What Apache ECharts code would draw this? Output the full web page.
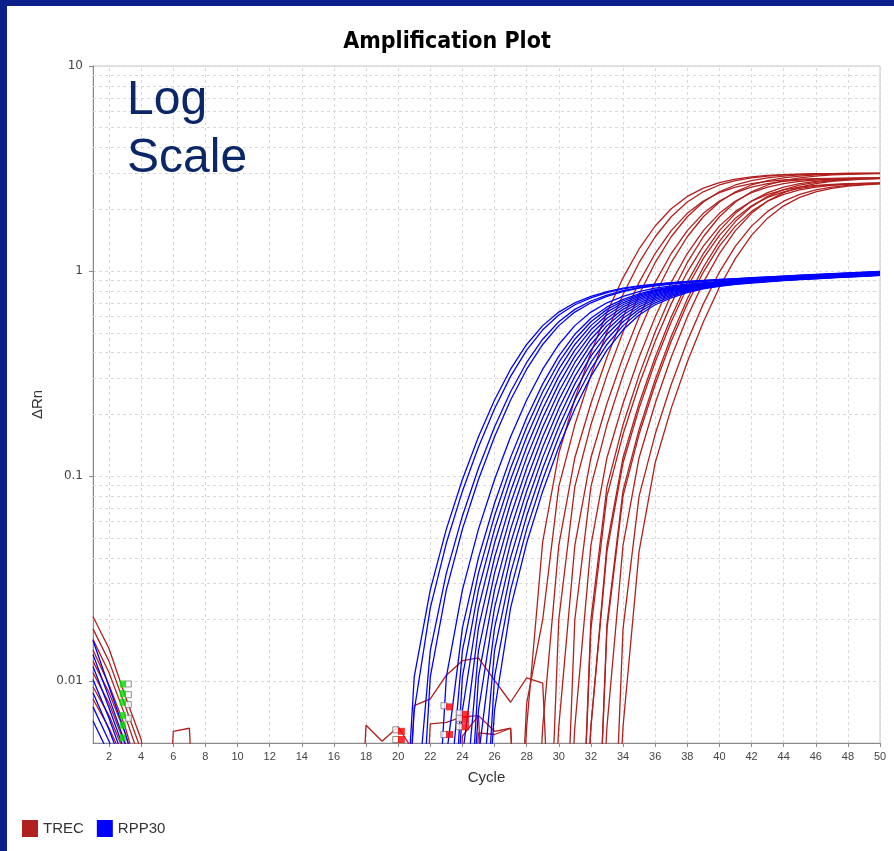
<!DOCTYPE html>
<html>
<head>
<meta charset="utf-8">
<script src="https://cdn.jsdelivr.net/npm/echarts@6/dist/echarts.min.js"></script>
<style>
html,body{margin:0;padding:0;background:#ffffff;}
#chart{width:894px;height:851px;}
</style>
</head>
<body>
<div id="chart"></div>
<script>
// ---------------- data ----------------
const cycleTicks = [2,4,6,8,10,12,14,16,18,20,22,24,26,28,30,32,34,36,38,40,42,44,46,48,50];
const minorTicks = [0.02,0.03,0.04,0.05,0.06,0.07,0.08,0.09,0.2,0.3,0.4,0.5,0.6,0.7,0.8,0.9,2,3,4,5,6,7,8,9];

// TREC amplification curves (ΔRn per cycle, from the start cycle onward)
const trecStarts = [27,27,28,29,29,30,30,31,31,31,31,32,32,32,33,33];
const trec01 = [0.0002,0.006,0.048,0.129,0.238,0.400,0.628,0.927,1.282,1.659,2.013,2.312,2.540,2.702,2.811,2.882,2.927,2.955,2.972,2.983,2.990,2.994,2.996,2.998];
const trec02 = [0.0002,0.0078,0.02,0.089,0.178,0.311,0.505,0.769,1.099,1.470,1.841,2.171,2.435,2.629,2.762,2.851,2.907,2.943,2.965,2.978,2.987,2.992,2.995,2.997];
const trec03 = [0.0002,0.006,0.046,0.123,0.226,0.380,0.597,0.881,1.218,1.576,1.912,2.196,2.413,2.567,2.670,2.738,2.781,2.807,2.823,2.834,2.841,2.844,2.846];
const trec04 = [0.0002,0.02,0.089,0.178,0.311,0.505,0.769,1.099,1.470,1.841,2.171,2.435,2.629,2.762,2.851,2.907,2.943,2.965,2.978,2.987,2.992,2.995];
const trec05 = [0.0002,0.006,0.046,0.123,0.226,0.380,0.597,0.881,1.218,1.576,1.912,2.196,2.413,2.567,2.670,2.738,2.781,2.807,2.823,2.834,2.841,2.844];
const trec06 = [0.0002,0.02,0.089,0.178,0.311,0.505,0.769,1.099,1.470,1.841,2.171,2.435,2.629,2.762,2.851,2.907,2.943,2.965,2.978,2.987,2.992];
const trec07 = [0.0002,0.006,0.046,0.123,0.226,0.380,0.597,0.881,1.218,1.576,1.912,2.196,2.413,2.567,2.670,2.738,2.781,2.807,2.823,2.834,2.841];
const trec08 = [0.0002,0.02,0.089,0.178,0.311,0.505,0.769,1.099,1.470,1.841,2.171,2.435,2.629,2.762,2.851,2.907,2.943,2.965,2.978,2.987];
const trec09 = [0.0002,0.018,0.080,0.160,0.280,0.455,0.692,0.989,1.323,1.657,1.954,2.192,2.366,2.486,2.566,2.616,2.649,2.669,2.680,2.688];
const trec10 = [0.0002,0.006,0.046,0.123,0.226,0.380,0.597,0.881,1.218,1.576,1.912,2.196,2.413,2.567,2.670,2.738,2.781,2.807,2.823,2.834];
const trec11 = [0.0002,0.006,0.043,0.116,0.214,0.360,0.565,0.834,1.154,1.493,1.812,2.081,2.286,2.432,2.530,2.594,2.634,2.660,2.675,2.685];
const trec12 = [0.0002,0.019,0.085,0.169,0.295,0.480,0.731,1.044,1.397,1.749,2.062,2.313,2.498,2.624,2.708,2.762,2.796,2.817,2.829];
const trec13 = [0.0002,0.018,0.080,0.160,0.280,0.455,0.692,0.989,1.323,1.657,1.954,2.192,2.366,2.486,2.566,2.616,2.649,2.669,2.680];
const trec14 = [0.0002,0.006,0.046,0.123,0.226,0.380,0.597,0.881,1.218,1.576,1.912,2.196,2.413,2.567,2.670,2.738,2.781,2.807,2.823];
const trec15 = [0.0002,0.018,0.080,0.160,0.280,0.455,0.692,0.989,1.323,1.657,1.954,2.192,2.366,2.486,2.566,2.616,2.649,2.669];
const trec16 = [0.0002,0.006,0.043,0.116,0.214,0.360,0.565,0.834,1.154,1.493,1.812,2.081,2.286,2.432,2.530,2.594,2.634,2.660];

// RPP30 amplification curves
const rppStarts = [20,20,21,21,22,22,23,23,23,23,24,24,24,24,25,25,25];
const rpp01 = [0.0005,0.0105,0.0279,0.0552,0.0964,0.1556,0.235,0.3323,0.4388,0.5421,0.6312,0.7005,0.7523,0.7946,0.825,0.8473,0.8644,0.8783,0.89,0.9005,0.9102,0.9195,0.9284,0.9371,0.9458,0.9545,0.9631,0.9716,0.9801,0.9886,0.9971];
const rpp02 = [0.0005,0.0072,0.0228,0.0472,0.0845,0.1389,0.2133,0.3067,0.412,0.5173,0.6107,0.6851,0.7395,0.7852,0.8182,0.8423,0.8605,0.875,0.8872,0.898,0.9079,0.9172,0.9262,0.935,0.9437,0.9524,0.961,0.9695,0.978,0.9865,0.995];
const rpp03 = [0.0018,0.0141,0.0337,0.064,0.1093,0.1735,0.2579,0.3585,0.4655,0.5661,0.6505,0.7147,0.7643,0.8031,0.8312,0.852,0.8681,0.8813,0.8928,0.903,0.9126,0.9218,0.9307,0.9394,0.9481,0.9567,0.9652,0.9737,0.9822,0.9907];
const rpp04 = [0.0005,0.0105,0.0279,0.0552,0.0964,0.1556,0.235,0.3323,0.4388,0.5421,0.6312,0.7005,0.7523,0.7946,0.825,0.8473,0.8644,0.8783,0.89,0.9005,0.9102,0.9195,0.9284,0.9371,0.9458,0.9545,0.9631,0.9716,0.9801,0.9886];
const rpp05 = [0.0005,0.0105,0.0279,0.0552,0.0964,0.1556,0.235,0.3323,0.4388,0.5421,0.6312,0.7005,0.7523,0.7946,0.825,0.8473,0.8644,0.8783,0.89,0.9005,0.9102,0.9195,0.9284,0.9371,0.9458,0.9545,0.9631,0.9716,0.9801];
const rpp06 = [0.0003,0.0043,0.0182,0.0401,0.0738,0.1235,0.1928,0.2819,0.3852,0.4917,0.589,0.6685,0.7276,0.7752,0.811,0.8369,0.8564,0.8717,0.8844,0.8954,0.9055,0.9149,0.924,0.9328,0.9415,0.9502,0.9589,0.9674,0.9759];
const rpp07 = [0.0018,0.0141,0.0337,0.064,0.1093,0.1735,0.2579,0.3585,0.4655,0.5661,0.6505,0.7147,0.7643,0.8031,0.8312,0.852,0.8681,0.8813,0.8928,0.903,0.9126,0.9218,0.9307,0.9394,0.9481,0.9567,0.9652,0.9737];
const rpp08 = [0.0005,0.0105,0.0279,0.0552,0.0964,0.1556,0.235,0.3323,0.4388,0.5421,0.6312,0.7005,0.7523,0.7946,0.825,0.8473,0.8644,0.8783,0.89,0.9005,0.9102,0.9195,0.9284,0.9371,0.9458,0.9545,0.9631,0.9716];
const rpp09 = [0.0005,0.0072,0.0228,0.0472,0.0845,0.1389,0.2133,0.3067,0.412,0.5173,0.6107,0.6851,0.7395,0.7852,0.8182,0.8423,0.8605,0.875,0.8872,0.898,0.9079,0.9172,0.9262,0.935,0.9437,0.9524,0.961,0.9695];
const rpp10 = [0.0003,0.0043,0.0182,0.0401,0.0738,0.1235,0.1928,0.2819,0.3852,0.4917,0.589,0.6685,0.7276,0.7752,0.811,0.8369,0.8564,0.8717,0.8844,0.8954,0.9055,0.9149,0.924,0.9328,0.9415,0.9502,0.9589,0.9674];
const rpp11 = [0.0018,0.0141,0.0337,0.064,0.1093,0.1735,0.2579,0.3585,0.4655,0.5661,0.6505,0.7147,0.7643,0.8031,0.8312,0.852,0.8681,0.8813,0.8928,0.903,0.9126,0.9218,0.9307,0.9394,0.9481,0.9567,0.9652];
const rpp12 = [0.0005,0.0105,0.0279,0.0552,0.0964,0.1556,0.235,0.3323,0.4388,0.5421,0.6312,0.7005,0.7523,0.7946,0.825,0.8473,0.8644,0.8783,0.89,0.9005,0.9102,0.9195,0.9284,0.9371,0.9458,0.9545,0.9631];
const rpp13 = [0.0005,0.0072,0.0228,0.0472,0.0845,0.1389,0.2133,0.3067,0.412,0.5173,0.6107,0.6851,0.7395,0.7852,0.8182,0.8423,0.8605,0.875,0.8872,0.898,0.9079,0.9172,0.9262,0.935,0.9437,0.9524,0.961];
const rpp14 = [0.0003,0.0043,0.0182,0.0401,0.0738,0.1235,0.1928,0.2819,0.3852,0.4917,0.589,0.6685,0.7276,0.7752,0.811,0.8369,0.8564,0.8717,0.8844,0.8954,0.9055,0.9149,0.924,0.9328,0.9415,0.9502,0.9589];
const rpp15 = [0.0018,0.0141,0.0337,0.064,0.1093,0.1735,0.2579,0.3585,0.4655,0.5661,0.6505,0.7147,0.7643,0.8031,0.8312,0.852,0.8681,0.8813,0.8928,0.903,0.9126,0.9218,0.9307,0.9394,0.9481,0.9567];
const rpp16 = [0.0005,0.0105,0.0279,0.0552,0.0964,0.1556,0.235,0.3323,0.4388,0.5421,0.6312,0.7005,0.7523,0.7946,0.825,0.8473,0.8644,0.8783,0.89,0.9005,0.9102,0.9195,0.9284,0.9371,0.9458,0.9545];
const rpp17 = [0.0005,0.0072,0.0228,0.0472,0.0845,0.1389,0.2133,0.3067,0.412,0.5173,0.6107,0.6851,0.7395,0.7852,0.8182,0.8423,0.8605,0.875,0.8872,0.898,0.9079,0.9172,0.9262,0.935,0.9437,0.9524];

// early-cycle baseline traces (start at cycle 1)
const trecEarly1 = [0.0207,0.0144,0.0085,0.0052,0.0015];
const trecEarly2 = [0.018,0.0125,0.0076,0.0046,0.001];
const trecEarly3 = [0.016,0.011,0.0068,0.004,0.001];
const trecEarly4 = [0.0142,0.0096,0.006,0.0032];
const trecEarly5 = [0.0125,0.0088,0.0056,0.003];
const trecEarly6 = [0.011,0.0078,0.0049,0.002];
const trecEarly7 = [0.0094,0.0068,0.0044,0.0018];
const trecEarly8 = [0.0082,0.0059,0.004,0.0015];
const rppEarly1 = [0.0158,0.0094,0.0056,0.003];
const rppEarly2 = [0.0135,0.0083,0.005,0.0025];
const rppEarly3 = [0.0118,0.0074,0.0045,0.002];
const rppEarly4 = [0.0102,0.0066,0.004,0.0018];
const rppEarly5 = [0.0088,0.0058,0.0036,0.0015];
const rppEarly6 = [0.0075,0.0051,0.0032,0.0012];
const rppEarly7 = [0.0064,0.0044,0.0028,0.001];

// TREC baseline noise traces (start cycle, values)
const noiseStarts = [5,17,20,21,23,24];
const trecNoise1 = [0.0002,0.0057,0.0059,0.0002];
const trecNoise2 = [0.0002,0.0061,0.0051,0.006,0.0045,0.0002];
const trecNoise3 = [0.0002,0.0076,0.0082,0.0107,0.0126,0.013,0.0101,0.0079,0.0104,0.0098,0.0002];
const trecNoise4 = [0.0002,0.0062,0.0063,0.0067,0.0068,0.0057,0.0059,0.0002];
const trecNoise5 = [0.0002,0.0054,0.0068,0.0002];
const trecNoise6 = [0.0002,0.0056,0.0055,0.0059,0.0002];

// baseline / threshold marks [cycle, ΔRn]
const greenMarks = [[2.85,0.0097],[2.85,0.0087],[2.85,0.0079],[2.85,0.0068],[2.85,0.0061],[2.85,0.0053]];
const greyMarksA = [[3.2,0.0097],[3.2,0.0086],[3.2,0.0077],[3.2,0.0066]];
const redMarks = [[20.2,0.0057],[20.2,0.0052],[23.2,0.0075],[23.2,0.0055],[24.2,0.0069],[24.2,0.0065],[24.2,0.006]];
const greyMarksB = [[19.85,0.0058],[19.85,0.0052],[22.85,0.0076],[22.85,0.0055],[23.8,0.007],[23.8,0.0066],[23.8,0.006]];

// ---------------- build ----------------
const RED = '#b0201e', BLUE = '#0000ff';
function pts(start, vals){ return vals.map((v,i)=>[start+i, v]); }
function lineSeries(name, color, data){
  return {name:name, type:'line', data:data, color:color, showSymbol:false, symbol:'none',
    lineStyle:{width:1.3, color:color}, silent:true, animation:false, z:2, clip:true};
}
const trecCurves = [trec01,trec02,trec03,trec04,trec05,trec06,trec07,trec08,trec09,trec10,trec11,trec12,trec13,trec14,trec15,trec16];
const rppCurves = [rpp01,rpp02,rpp03,rpp04,rpp05,rpp06,rpp07,rpp08,rpp09,rpp10,rpp11,rpp12,rpp13,rpp14,rpp15,rpp16,rpp17];
const trecEarly = [trecEarly1,trecEarly2,trecEarly3,trecEarly4,trecEarly5,trecEarly6,trecEarly7,trecEarly8];
const rppEarly = [rppEarly1,rppEarly2,rppEarly3,rppEarly4,rppEarly5,rppEarly6,rppEarly7];
const trecNoise = [trecNoise1,trecNoise2,trecNoise3,trecNoise4,trecNoise5,trecNoise6];

const series = [];
series.push({name:'grid', type:'line', data:[[1,1]], symbol:'none', showSymbol:false, lineStyle:{opacity:0}, silent:true, animation:false, z:1,
  markLine:{silent:true, animation:false, symbol:['none','none'], z:1, label:{show:false},
    lineStyle:{type:[3,3], color:'#d9d9d9', width:1},
    emphasis:{disabled:true},
    data: minorTicks.map(v=>({yAxis:v})).concat(cycleTicks.map(c=>({xAxis:c})))}});
trecNoise.forEach((a,i)=>series.push(lineSeries('TREC', RED, pts(noiseStarts[i], a))));
trecEarly.forEach(a=>series.push(lineSeries('TREC', RED, pts(1, a))));
rppEarly.forEach(a=>series.push(lineSeries('RPP30', BLUE, pts(1, a))));
trecCurves.forEach((a,i)=>series.push(lineSeries('TREC', RED, pts(trecStarts[i], a))));
rppCurves.forEach((a,i)=>series.push(lineSeries('RPP30', BLUE, pts(rppStarts[i], a))));
series.push({name:'marksG', type:'scatter', data:greyMarksA, symbol:'rect', symbolSize:6, silent:true, animation:false, z:3,
  itemStyle:{color:'#ffffff', borderColor:'#777777', borderWidth:1}});
series.push({name:'marksG2', type:'scatter', data:greyMarksB, symbol:'rect', symbolSize:6, silent:true, animation:false, z:3,
  itemStyle:{color:'#ffffff', borderColor:'#777777', borderWidth:1}});
series.push({name:'marksGreen', type:'scatter', data:greenMarks, symbol:'rect', symbolSize:[6,7], silent:true, animation:false, z:4,
  itemStyle:{color:'#00e000'}});
series.push({name:'marksRed', type:'scatter', data:redMarks, symbol:'rect', symbolSize:[7,7], silent:true, animation:false, z:4,
  itemStyle:{color:'#ff0000'}});

const chart = echarts.init(document.getElementById('chart'), null, {renderer:'canvas'});
chart.setOption({
  animation:false,
  backgroundColor:'#ffffff',
  title:{text:'Amplification Plot', left:'center', top:31, padding:[0,0,0,10],
    textStyle:{fontSize:23, fontWeight:'bold', color:'#000000',
      fontFamily:"'DejaVu Sans Condensed','Liberation Sans Narrow','Liberation Sans',sans-serif"}},
  legend:{data:['TREC','RPP30'], left:17, top:815, icon:'rect', itemWidth:16, itemHeight:17, itemGap:13,
    selectedMode:false, textStyle:{fontSize:15, color:'#333333', fontFamily:'Liberation Sans'}},
  grid:{left:93, right:14, top:66, bottom:108, show:true, borderColor:'#c4c4c4', borderWidth:1, backgroundColor:'#ffffff'},
  xAxis:{type:'value', min:1, max:50,
    name:'Cycle', nameLocation:'middle', nameGap:27,
    nameTextStyle:{fontSize:15, color:'#333333', fontFamily:'Liberation Sans'},
    axisLine:{show:true, lineStyle:{color:'#8a8a8a', width:1}},
    axisTick:{show:true, customValues:cycleTicks, length:4, lineStyle:{color:'#8a8a8a'}},
    axisLabel:{customValues:cycleTicks, fontSize:11, color:'#444444', margin:8, fontFamily:'Liberation Sans'},
    splitLine:{show:false}},
  yAxis:{type:'log', logBase:10, min:0.005, max:10,
    name:'ΔRn', nameLocation:'middle', nameGap:48,
    nameTextStyle:{fontSize:15, color:'#333333', fontFamily:'Liberation Sans'},
    axisLine:{show:true, lineStyle:{color:'#8a8a8a', width:1}},
    axisTick:{show:true, length:4, lineStyle:{color:'#8a8a8a'}},
    axisLabel:{showMinLabel:false, fontSize:12, color:'#444444', margin:10, fontFamily:'DejaVu Sans'},
    splitLine:{show:true, lineStyle:{type:[3,3], color:'#d9d9d9'}},
    minorTick:{show:false}, minorSplitLine:{show:false}},
  graphic:[
    {type:'rect', left:0, top:0, silent:true, shape:{width:894, height:6}, style:{fill:'#0c1f8a'}},
    {type:'rect', left:0, top:0, silent:true, shape:{width:7, height:851}, style:{fill:'#0c1f8a'}},
    {type:'text', left:127, top:77, silent:true, z:10, style:{text:'Log', font:'48px "Liberation Sans"', fill:'#0b2767'}},
    {type:'text', left:127, top:135, silent:true, z:10, style:{text:'Scale', font:'48px "Liberation Sans"', fill:'#0b2767'}}
  ],
  series:series
});
</script>
</body>
</html>
